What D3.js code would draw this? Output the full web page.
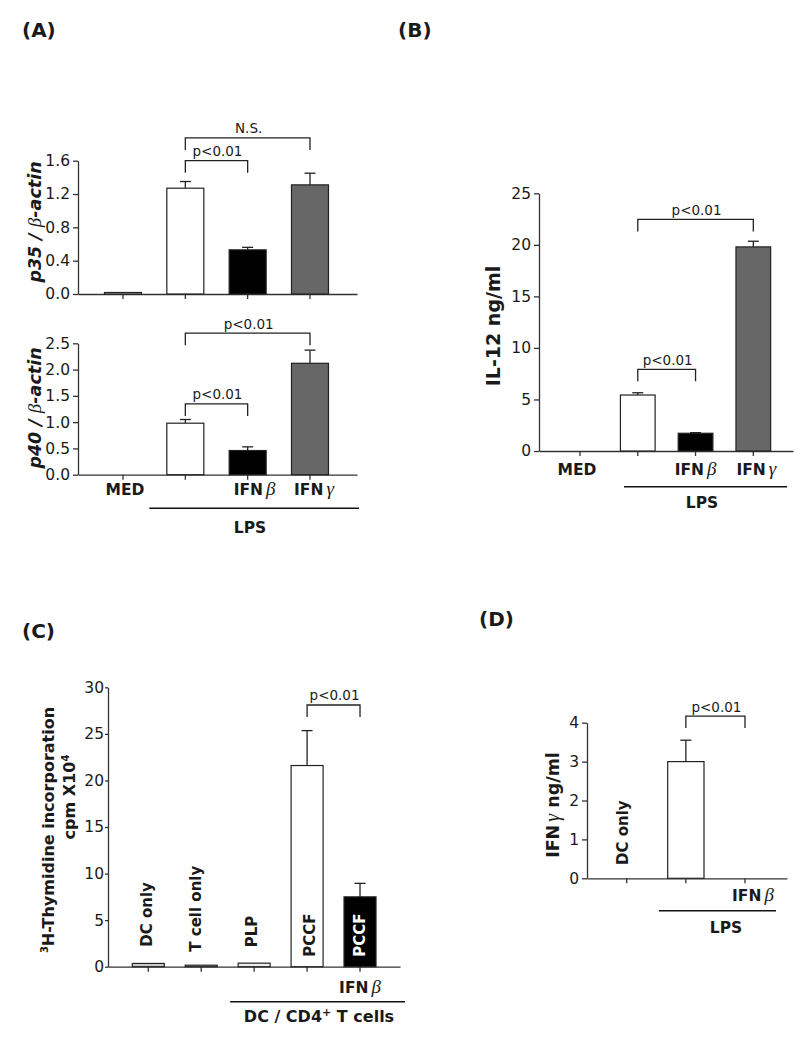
<!DOCTYPE html>
<html><head><meta charset="utf-8">
<script src="https://cdn.jsdelivr.net/npm/d3@7"></script>
<style>
body{margin:0;background:#fff;}
text{font-family:"DejaVu Sans",Verdana,sans-serif;fill:#1a1a1a;}
.tick text{font-size:15.5px;}
.axis path,.axis line{stroke:#333;stroke-width:1.3;}
</style></head><body>
<script>
// ---------------- DATA ----------------
// Panel A (top): p35 / beta-actin
const p35Categories = ["MED", "LPS", "LPS+IFNβ", "LPS+IFNγ"];
const p35Values = [0.01, 1.27, 0.53, 1.31];
const p35Errors = [0, 0.08, 0.03, 0.14];
const p35Ticks = [0, 0.4, 0.8, 1.2, 1.6];
// Panel A (bottom): p40 / beta-actin
const p40Categories = ["MED", "LPS", "LPS+IFNβ", "LPS+IFNγ"];
const p40Values = [0, 0.98, 0.46, 2.12];
const p40Errors = [0, 0.07, 0.07, 0.25];
const p40Ticks = [0, 0.5, 1.0, 1.5, 2.0, 2.5];
// Panel B: IL-12 ng/ml
const il12Categories = ["MED", "LPS", "LPS+IFNβ", "LPS+IFNγ"];
const il12Values = [0, 5.43, 1.72, 19.8];
const il12Errors = [0, 0.22, 0.06, 0.55];
const il12Ticks = [0, 5, 10, 15, 20, 25];
// Panel C: 3H-thymidine incorporation (cpm x10^4)
const thymCategories = ["DC only", "T cell only", "PLP", "PCCF", "PCCF "];
const thymValues = [0.35, 0.05, 0.38, 21.6, 7.5];
const thymErrors = [0, 0, 0, 3.75, 1.45];
const thymTicks = [0, 5, 10, 15, 20, 25, 30];
// Panel D: IFN-gamma ng/ml
const ifngCategories = ["DC only", "LPS", "LPS+IFNβ"];
const ifngValues = [0, 3.0, 0];
const ifngErrors = [0, 0.55, 0];
const ifngTicks = [0, 1, 2, 3, 4];

// significance annotations: [fromIndex, toIndex, level (data units), label]
const p35Brackets = [[1, 2, 1.6, "p<0.01"], [1, 3, 1.873, "N.S."]];
const p40Brackets = [[1, 2, 1.346, "p<0.01"], [1, 3, 2.692, "p<0.01"]];
const il12Brackets = [[1, 2, 7.92, "p<0.01"], [1, 3, 22.47, "p<0.01"]];
const thymBrackets = [[3, 4, 28.1, "p<0.01"]];
const ifngBrackets = [[1, 2, 4.17, "p<0.01"]];

// ---------------- DRAWING ----------------
const svg = d3.select("body").append("svg").attr("width", 808).attr("height", 1050);
const TITLE = 17.5;

function panel(o) {
  const n = o.categories.length;
  const pI = 1 - o.barW / o.step;
  const pO = ((o.x1 - o.x0) / o.step - n + pI) / 2;
  const align = (o.firstCenter - o.barW / 2 - o.x0) / ((o.x1 - o.x0) - o.step * (n - pI));
  const x = d3.scaleBand().domain(o.categories).range([o.x0, o.x1])
    .paddingInner(pI).paddingOuter(pO).align(align);
  const y = d3.scaleLinear().domain(o.domain).range([o.y0, o.y1]);
  const g = svg.append("g");

  g.append("g").attr("class", "axis").attr("transform", `translate(0,${o.y0})`)
    .call(d3.axisBottom(x).tickSize(5).tickSizeOuter(0).tickFormat(""));
  g.append("g").attr("class", "axis").attr("transform", `translate(${o.x0},0)`)
    .call(d3.axisLeft(y).tickValues(o.ticks).tickSize(o.tickLen).tickSizeOuter(0)
      .tickPadding(o.tickPad).tickFormat(d3.format(o.fmt)));

  const data = o.categories.map((c, i) => ({c, v: o.values[i], e: o.errors[i], f: o.fills[i]}));
  // error bars
  g.selectAll(".err").data(data.filter(d => d.e > 0)).join("g").each(function(d) {
    const cx = x(d.c) + x.bandwidth() / 2;
    const s = d3.select(this);
    s.append("line").attr("x1", cx).attr("x2", cx).attr("y1", y(d.v)).attr("y2", y(d.v + d.e))
      .attr("stroke", "#222").attr("stroke-width", 1.3);
    s.append("line").attr("x1", cx - 5.5).attr("x2", cx + 5.5).attr("y1", y(d.v + d.e)).attr("y2", y(d.v + d.e))
      .attr("stroke", "#222").attr("stroke-width", 1.3);
  });
  // bars
  g.selectAll(".bar").data(data.filter(d => d.v > 0)).join("rect")
    .attr("x", d => x(d.c)).attr("width", x.bandwidth())
    .attr("y", d => Math.min(y(d.v), o.y0 - 1.5))
    .attr("height", d => Math.max(o.y0 - y(d.v), 1.5))
    .attr("fill", d => d.f).attr("stroke", "#222").attr("stroke-width", 1.2);

  // brackets
  o.brackets.forEach(([a, b, lvl, lab]) => {
    const xa = x(o.categories[a]) + x.bandwidth() / 2;
    const xb = x(o.categories[b]) + x.bandwidth() / 2;
    const yl = y(lvl);
    g.append("path").attr("d", `M${xa},${yl + 12}V${yl}H${xb}V${yl + 12}`)
      .attr("fill", "none").attr("stroke", "#222").attr("stroke-width", 1.3);
    g.append("text").attr("x", (xa + xb) / 2 + 1).attr("y", yl - 4.5).attr("text-anchor", "middle")
      .style("font-size", "13.5px").text(lab);
  });
  return {x, y, g, cx: c => x(c) + x.bandwidth() / 2};
}

function greekLabel(g, px, py, base, greek, anchor) {
  const t = g.append("text").attr("x", px).attr("y", py).attr("text-anchor", anchor || "middle")
    .style("font-size", "15.5px").style("font-weight", "bold");
  t.append("tspan").text(base);
  t.append("tspan").attr("dx", 3).style("font-weight", "normal").style("font-style", "italic")
    .style("font-family", "'Liberation Serif',serif").style("font-size", "19px").text(greek);
  return t;
}
function boldText(g, px, py, s, size, anchor) {
  return g.append("text").attr("x", px).attr("y", py).attr("text-anchor", anchor || "middle")
    .style("font-size", (size || 15.5) + "px").style("font-weight", "bold").text(s);
}
function rotText(g, px, py, anchor, size) {
  return g.append("text").attr("transform", `translate(${px},${py}) rotate(-90)`)
    .attr("text-anchor", anchor || "middle").style("font-size", (size || 15) + "px").style("font-weight", "bold");
}

// Panel labels
boldText(svg, 22, 37, "(A)", 20, "start");
boldText(svg, 398, 37, "(B)", 20, "start");
boldText(svg, 22, 638, "(C)", 20, "start");
boldText(svg, 479, 626, "(D)", 20, "start");

const wbgFills = ["#ffffff", "#ffffff", "#000000", "#676767"];

// ---- Panel A top
const A1 = panel({categories: p35Categories, values: p35Values, errors: p35Errors, fills: wbgFills,
  x0: 78, x1: 357, firstCenter: 123, step: 62.33, barW: 37, y0: 294, y1: 160.7,
  domain: [0, 1.6], ticks: p35Ticks, fmt: ".1f", tickLen: 5, tickPad: 3, brackets: p35Brackets});
{
  const t = rotText(A1.g, 41, 222, "middle", TITLE);
  t.append("tspan").style("font-style", "italic").text("p35 / ");
  t.append("tspan").style("font-style", "italic").style("font-weight", "normal")
    .style("font-family", "'Liberation Serif',serif").style("font-size", "19px").text("β");
  t.append("tspan").style("font-style", "italic").text("-actin");
}
// ---- Panel A bottom
const A2 = panel({categories: p40Categories, values: p40Values, errors: p40Errors, fills: wbgFills,
  x0: 78, x1: 357, firstCenter: 123, step: 62.33, barW: 37, y0: 474.7, y1: 343.3,
  domain: [0, 2.5], ticks: p40Ticks, fmt: ".1f", tickLen: 5, tickPad: 3, brackets: p40Brackets});
{
  const t = rotText(A2.g, 41, 408, "middle", TITLE);
  t.append("tspan").style("font-style", "italic").text("p40 / ");
  t.append("tspan").style("font-style", "italic").style("font-weight", "normal")
    .style("font-family", "'Liberation Serif',serif").style("font-size", "19px").text("β");
  t.append("tspan").style("font-style", "italic").text("-actin");
  boldText(A2.g, A2.cx("MED") + 2, 495, "MED");
  greekLabel(A2.g, A2.cx("LPS+IFNβ") + 7, 495, "IFN", "β");
  greekLabel(A2.g, A2.cx("LPS+IFNγ") + 4, 495, "IFN", "γ");
  A2.g.append("line").attr("x1", A2.cx("LPS") - 36).attr("x2", 359).attr("y1", 508.3).attr("y2", 508.3)
    .attr("stroke", "#111").attr("stroke-width", 1.5);
  boldText(A2.g, 250, 532.7, "LPS");
}
// ---- Panel B
const B = panel({categories: il12Categories, values: il12Values, errors: il12Errors, fills: wbgFills,
  x0: 539, x1: 793, firstCenter: 580, step: 57.77, barW: 34.7, y0: 451, y1: 193.3,
  domain: [0, 25], ticks: il12Ticks, fmt: "d", tickLen: 5, tickPad: 3, brackets: il12Brackets});
{
  rotText(B.g, 500, 326, "middle", 19).text("IL-12 ng/ml");
  boldText(B.g, B.cx("MED") - 3, 475, "MED");
  greekLabel(B.g, B.cx("LPS+IFNβ"), 475, "IFN", "β");
  greekLabel(B.g, B.cx("LPS+IFNγ") + 3, 475, "IFN", "γ");
  B.g.append("line").attr("x1", 624).attr("x2", 787).attr("y1", 486.7).attr("y2", 486.7)
    .attr("stroke", "#111").attr("stroke-width", 1.5);
  boldText(B.g, 702, 508, "LPS");
}
// ---- Panel C
const C = panel({categories: thymCategories, values: thymValues, errors: thymErrors,
  fills: ["#cccccc", "#cccccc", "#eeeeee", "#ffffff", "#000000"],
  x0: 108, x1: 400, firstCenter: 148.3, step: 52.93, barW: 32, y0: 966.7, y1: 687.3,
  domain: [0, 30], ticks: thymTicks, fmt: "d", tickLen: 3, tickPad: 1, brackets: thymBrackets});
{
  const rot = [["DC only", 4, 946.7, "#1a1a1a"], ["T cell only", -0.5, 951.7, "#1a1a1a"],
               ["PLP", 3, 947.3, "#1a1a1a"], ["PCCF", 7.7, 956.7, "#1a1a1a"], ["PCCF ", 5, 956.7, "#ffffff"]];
  rot.forEach(([c, dx, by, col]) => {
    rotText(C.g, C.cx(c) + dx, by, "start").style("fill", col).text(c.trim());
  });
  const t1 = rotText(C.g, 53.5, 830, "middle", 16);
  t1.append("tspan").style("font-size", "10px").attr("dy", -6).text("3");
  t1.append("tspan").attr("dy", 6).text("H-Thymidine incorporation");
  const t2 = rotText(C.g, 74.5, 797, "middle", 16);
  t2.append("tspan").text("cpm X10");
  t2.append("tspan").style("font-size", "10px").attr("dy", -6).text("4");
  greekLabel(C.g, C.cx("PCCF "), 993, "IFN", "β");
  C.g.append("line").attr("x1", C.cx("PLP") - 24).attr("x2", 405).attr("y1", 1001.7).attr("y2", 1001.7)
    .attr("stroke", "#111").attr("stroke-width", 1.5);
  const t3 = boldText(C.g, 319, 1021.7, "", 16);
  t3.append("tspan").text("DC / CD4");
  t3.append("tspan").style("font-size", "11px").attr("dy", -6).text("+");
  t3.append("tspan").attr("dy", 6).text(" T cells");
}
// ---- Panel D
const D = panel({categories: ifngCategories, values: ifngValues, errors: ifngErrors,
  fills: ["#ffffff", "#ffffff", "#ffffff"],
  x0: 587, x1: 787, firstCenter: 626.7, step: 59.15, barW: 36.3, y0: 878.3, y1: 722.7,
  domain: [0, 4], ticks: ifngTicks, fmt: "d", tickLen: 5, tickPad: 3, brackets: ifngBrackets});
{
  const t = rotText(D.g, 559, 805, "middle", TITLE);
  t.append("tspan").text("IFN");
  t.append("tspan").attr("dx", 3).style("font-weight", "normal").style("font-style", "italic")
    .style("font-family", "'Liberation Serif',serif").style("font-size", "20px").text("γ");
  t.append("tspan").text(" ng/ml");
  rotText(D.g, D.cx("DC only") + 1, 865, "start").text("DC only");
  greekLabel(D.g, D.cx("LPS+IFNβ") + 8, 900.7, "IFN", "β");
  D.g.append("line").attr("x1", 659).attr("x2", 776).attr("y1", 910.7).attr("y2", 910.7)
    .attr("stroke", "#111").attr("stroke-width", 1.5);
  boldText(D.g, 726, 933.3, "LPS");
}
</script>
</body></html>
